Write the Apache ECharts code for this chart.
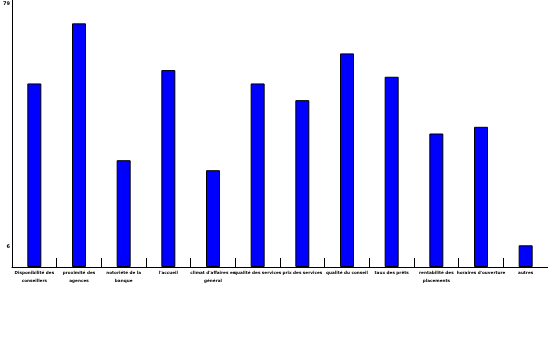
<!DOCTYPE html>
<html>
<head>
<meta charset="utf-8">
<script src="https://cdn.jsdelivr.net/npm/echarts@6/dist/echarts.min.js"></script>
<style>html,body{margin:0;padding:0;background:#fff}#c{width:548px;height:355px}</style>
</head>
<body>
<div id="c"></div>
<script>
const categories = [
  "Disponibilité des\nconseillers",
  "proximité des\nagences",
  "notoriété de la\nbanque",
  "l'accueil",
  "climat d'affaires en\ngénéral",
  "qualité des services",
  "prix des services",
  "qualité du conseil",
  "taux des prêts",
  "rentabilité des\nplacements",
  "horaires d'ouverture",
  "autres"
];
const values = [55, 73, 32, 59, 29, 55, 50, 64, 57, 40, 42, 6.5];
const yTickValues = [6, 79];
const yTickLabels = ["6", "79"];

const chart = echarts.init(document.getElementById('c'), null, {renderer: 'canvas'});
chart.setOption({
  animation: false,
  backgroundColor: '#fff',
  grid: {left: 12, right: 0, top: 0, bottom: 88, containLabel: false},
  xAxis: {
    type: 'category',
    data: categories,
    boundaryGap: true,
    axisLine: {lineStyle: {color: '#000', width: 1}},
    axisTick: {show: true, inside: true, length: 9, lineStyle: {color: '#000', width: 1}},
    axisLabel: {
      interval: 0, color: '#000', fontSize: 4.2, fontWeight: 'bold',
      fontFamily: 'DejaVu Sans', lineHeight: 8, margin: 2
    },
    splitLine: {show: false}
  },
  yAxis: {
    type: 'value',
    min: 0, max: 80,
    axisLine: {show: true, lineStyle: {color: '#000', width: 1}},
    axisTick: {show: false},
    splitLine: {show: false},
    axisLabel: {
      customValues: yTickValues,
      formatter: function (v) { const i = yTickValues.indexOf(v); return i >= 0 ? yTickLabels[i] : ''; },
      color: '#000', fontSize: 5, fontWeight: 'bold', fontFamily: 'DejaVu Sans', margin: 2
    }
  },
  series: [{
    type: 'bar',
    data: values,
    barWidth: 14,
    itemStyle: {color: '#0000ff', borderColor: '#000', borderWidth: 1}
  }]
});
</script>
</body>
</html>
